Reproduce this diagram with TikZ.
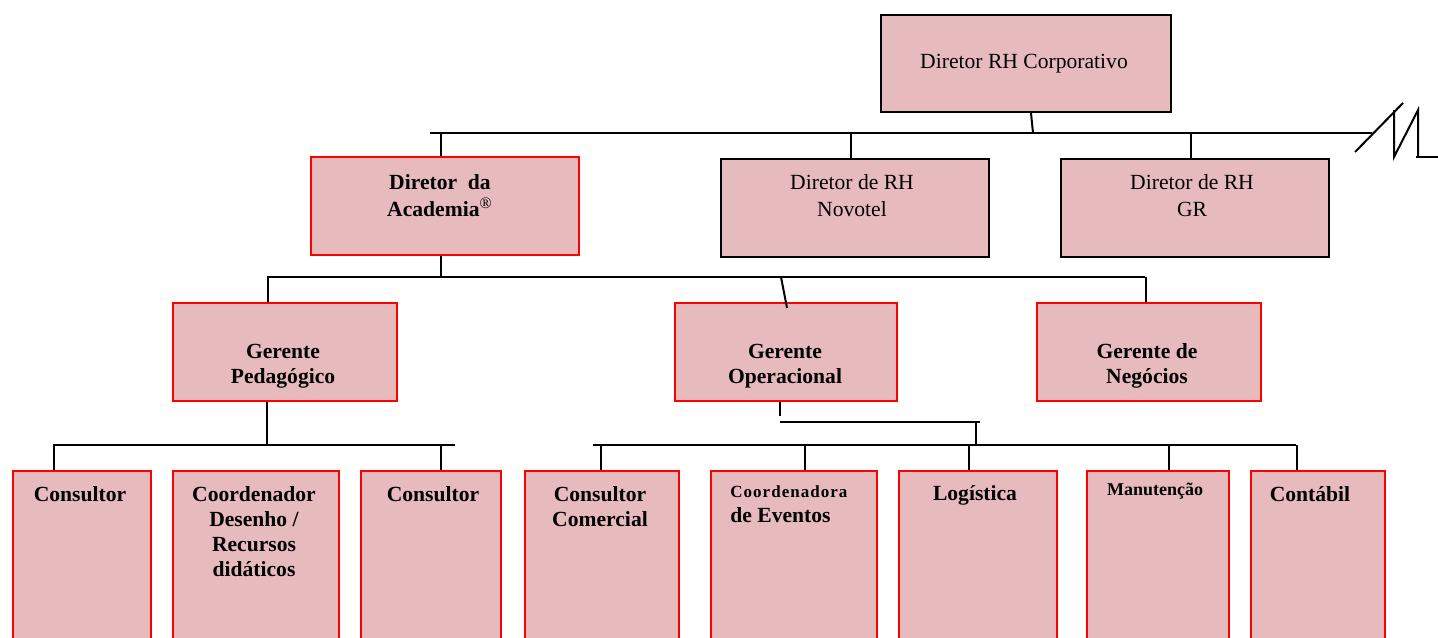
\documentclass[tikz,border=0pt]{standalone}
\usepackage{fontspec}
\setmainfont{Liberation Serif}
\definecolor{boxfill}{RGB}{231,187,189}
\definecolor{boxred}{RGB}{255,0,0}
\begin{document}
\begin{tikzpicture}[x=0.5pt,y=-0.5pt,
  box/.style={draw=black, line width=1pt, fill=boxfill, inner sep=0pt, anchor=north west},
  redbox/.style={box, draw=boxred},
  conn/.style={line width=1pt, draw=black},
  txt/.style={font=\fontsize{10.8pt}{12.5pt}\selectfont, align=center, inner sep=0pt},
  btxt/.style={font=\fontsize{10.8pt}{12.5pt}\selectfont\bfseries, align=center, inner sep=0pt}]
\useasboundingbox (0,0) rectangle (1438,637);
\clip (0,0) rectangle (1438,637);
% ---- boxes ----
\node[box, minimum width=145pt, minimum height=48.5pt] (corp) at (880,14) {};
\node[redbox, minimum width=134pt, minimum height=49pt] (acad) at (310,156) {};
\node[box, minimum width=134pt, minimum height=49pt] (novo) at (720,158) {};
\node[box, minimum width=134pt, minimum height=49pt] (gr) at (1060,158) {};
\node[redbox, minimum width=112pt, minimum height=49pt] (ped) at (172,302) {};
\node[redbox, minimum width=111pt, minimum height=49pt] (oper) at (674,302) {};
\node[redbox, minimum width=112pt, minimum height=49pt] (neg) at (1036,302) {};
\node[redbox, minimum width=69pt, minimum height=95pt] (c1) at (12,470) {};
\node[redbox, minimum width=83pt, minimum height=95pt] (c2) at (172,470) {};
\node[redbox, minimum width=70pt, minimum height=95pt] (c3) at (360,470) {};
\node[redbox, minimum width=77pt, minimum height=95pt] (c4) at (524,470) {};
\node[redbox, minimum width=83pt, minimum height=95pt] (c5) at (710,470) {};
\node[redbox, minimum width=79pt, minimum height=95pt] (c6) at (898,470) {};
\node[redbox, minimum width=71pt, minimum height=95pt] (c7) at (1086,470) {};
\node[redbox, minimum width=67pt, minimum height=95pt] (c8) at (1250,470) {};
% ---- texts ----
\node[txt] (tcorp) at (1024,64) {Diretor RH Corporativo};
\node[btxt, font=\fontsize{10.8pt}{13.5pt}\selectfont\bfseries] (tacad) at (440,196) {Diretor\ \ da\\Academia\textsuperscript{\normalfont\footnotesize ®}};
\node[txt, font=\fontsize{10.8pt}{13.5pt}\selectfont] (tnovo) at (852,196) {Diretor de RH\\Novotel};
\node[txt, font=\fontsize{10.8pt}{13.5pt}\selectfont] (tgr) at (1192,196) {Diretor de RH\\GR};
\node[btxt] (tped) at (283,366) {Gerente\\Pedagógico};
\node[btxt] (toper) at (785,366) {Gerente\\Operacional};
\node[btxt] (tneg) at (1147,366) {Gerente de\\Negócios};
\node[btxt] (tc1) at (80,494) {Consultor};
\node[btxt] (tc2) at (254,532) {Coordenador\\Desenho /\\Recursos\\didáticos};
\node[btxt] (tc3) at (433,494) {Consultor};
\node[btxt] (tc4) at (600,507) {Consultor\\Comercial};
\node[btxt, align=left, anchor=west] (tc5) at (730,504) {{\fontsize{8.5pt}{10pt}\selectfont\addfontfeature{LetterSpace=6}Coordenadora}\\de Eventos};
\node[btxt] (tc6) at (975,495) {Logística};
\node[btxt, font=\fontsize{9pt}{11pt}\selectfont\bfseries] (tc7) at (1155,491) {Manutenção};
\node[btxt] (tc8) at (1310,494) {Contábil};
% ---- bus coordinates ----
\coordinate (b1L) at (430,133);
\coordinate (b1R) at (1372,133);
\coordinate (b2L) at (267,277);
\coordinate (b2R) at (1145,277);
\coordinate (b3L) at (53,445);
\coordinate (b3Le) at (455,445);
\coordinate (b3R) at (593,445);
\coordinate (b3Re) at (1296,445);
\coordinate (opA) at (780,416);
\coordinate (opC) at (980,422);
% ---- connectors ----
\draw[conn] (b1L) -- (b1R);
\draw[conn] ([xshift=2.5pt]corp.south) -- ([xshift=3.5pt]corp.south |- b1L);
\draw[conn] ([xshift=-2pt]acad.north) -- ([xshift=-2pt]acad.north |- b1L);
\draw[conn] ([xshift=-2pt]novo.north) -- ([xshift=-2pt]novo.north |- b1L);
\draw[conn] ([xshift=-2pt]gr.north) -- ([xshift=-2pt]gr.north |- b1L);
\draw[conn] (b2L) -- (b2R);
\draw[conn] ([xshift=-2pt]acad.south) -- ([xshift=-2pt]acad.south |- b2L);
\draw[conn] ([xshift=-8.5pt]ped.north) -- ([xshift=-8.5pt]ped.north |- b2L);
\draw[conn] ([xshift=-2.5pt]oper.north |- b2L) -- ([xshift=0.5pt,yshift=-3pt]oper.north);
\draw[conn] ([xshift=-1.5pt]neg.north) -- ([xshift=-1.5pt]neg.north |- b2L);
\draw[conn] (b3L) -- (b3Le);
\draw[conn] ([xshift=-9pt]ped.south) -- ([xshift=-9pt]ped.south |- b3L);
\draw[conn] ([xshift=-14pt]c1.north) -- ([xshift=-14pt]c1.north |- b3L);
\draw[conn] ([xshift=5pt]c3.north) -- ([xshift=5pt]c3.north |- b3L);
\draw[conn] ([xshift=-3pt]oper.south) -- ([xshift=-3pt]oper.south |- opA);
\draw[conn] ([xshift=-3pt]oper.south |- opC) -- (opC);
\draw[conn] ([xshift=-2pt]opC) -- ([xshift=-2pt]opC |- b3R);
\draw[conn] (b3R) -- (b3Re);
\draw[conn] ([xshift=-0.5pt]c4.north) -- ([xshift=-0.5pt]c4.north |- b3R);
\draw[conn] ([xshift=5.5pt]c5.north) -- ([xshift=5.5pt]c5.north |- b3R);
\draw[conn] ([xshift=-4.5pt]c6.north) -- ([xshift=-4.5pt]c6.north |- b3R);
\draw[conn] ([xshift=5.5pt]c7.north) -- ([xshift=5.5pt]c7.north |- b3R);
\draw[conn] ([xshift=-10.5pt]c8.north) -- ([xshift=-10.5pt]c8.north |- b3R);
% ---- break symbol ----
\coordinate (brA) at (1355,152);
\coordinate (brB) at (1403,103);
\coordinate (brC) at (1394,110);
\coordinate (brD) at (1394,157);
\coordinate (brE) at (1418,110);
\coordinate (brF) at (1418,157);
\coordinate (brG) at (1438,157);
\draw[conn] (brA) -- (brB);
\draw[conn] (brC) -- (brD) -- (brE) -- (brF);
\draw[conn] ([xshift=-1pt]brF) -- (brG);
\end{tikzpicture}
\end{document}
